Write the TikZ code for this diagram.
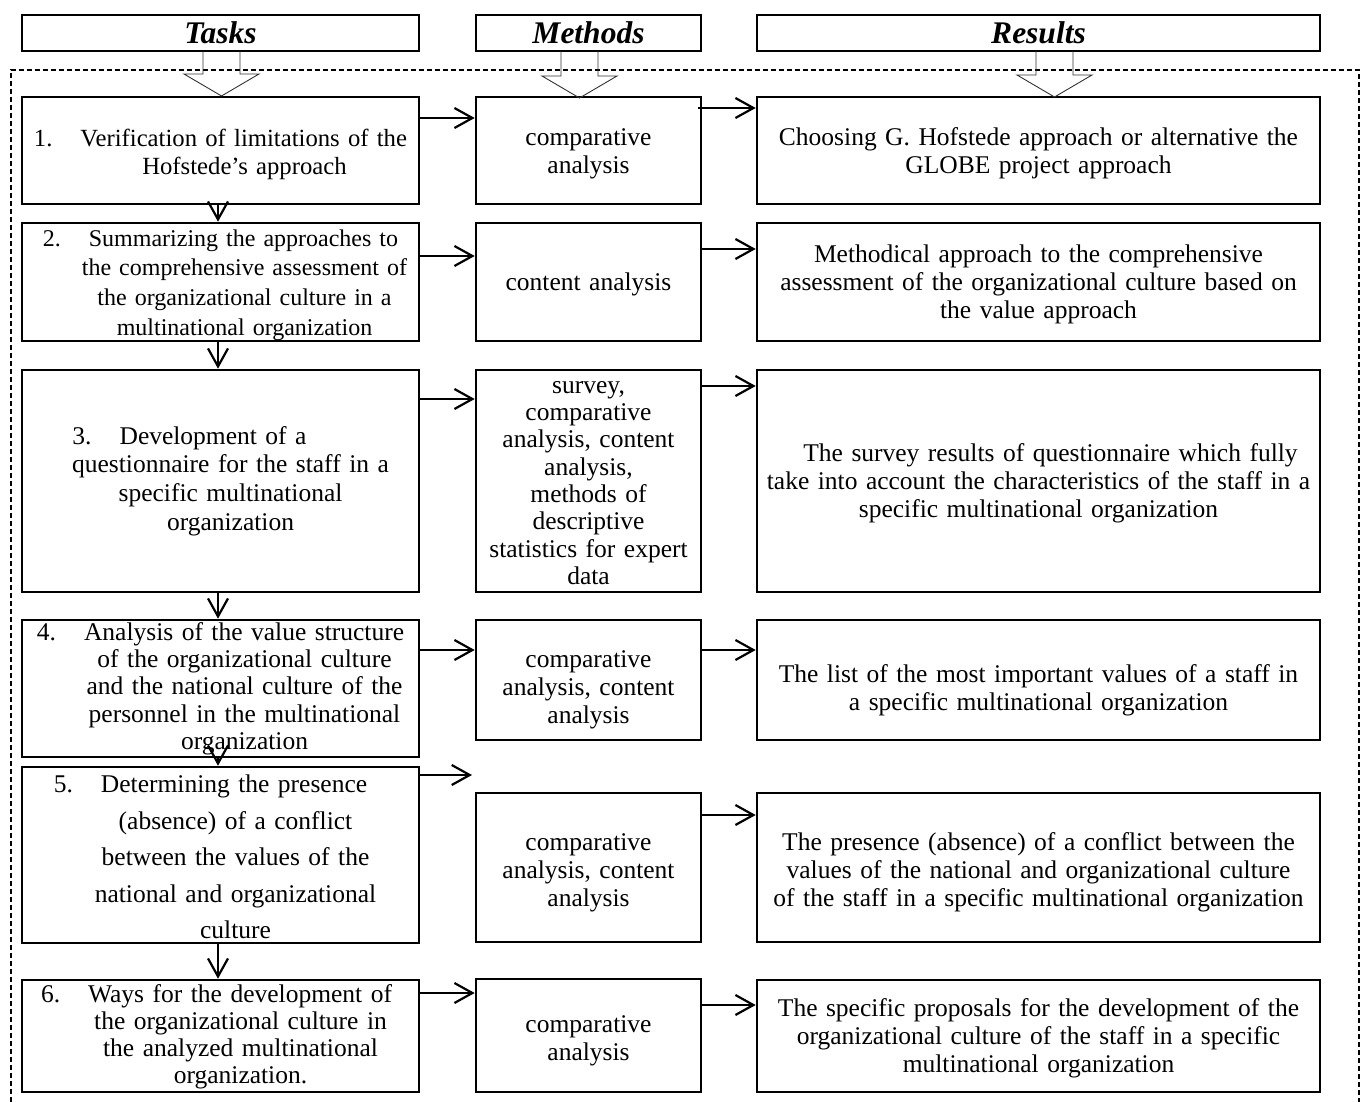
\documentclass[tikz,border=0pt]{standalone}
\usepackage{fontspec}
\setmainfont{Liberation Serif}
\usetikzlibrary{arrows.meta}
% one centred line, shifted by #1 from the middle of the text block
\newcommand{\Lc}[2]{\hspace*{\dimexpr0.5\linewidth+#1\relax}\makebox[0pt][c]{#2}}
% outlined down arrow: centre x, top of shaft, base of head, tip
\newcommand{\blockarrow}[4]{%
  \draw[hollow] (#1-18.5,#2) -- (#1-18.5,#3) -- (#1-37.5,#3) -- (#1,#4)
    -- (#1+37.5,#3) -- (#1+18.5,#3) -- (#1+18.5,#2);}
% framed cell: name, centre, width, height, text style, text shift, text
\newcommand{\cell}[7]{%
  \node[cellbox, minimum width=#3, minimum height=#4] (#1) at #2 {};
  \node[#5, yshift=#6] (#1t) at (#1) {#7};}
\begin{document}
\begin{tikzpicture}[x=1pt,y=-1pt,
  cellbox/.style={draw, line width=2.6pt, inner sep=0pt},
  body/.style={inner sep=0pt, font=\fontsize{25.5}{28}\selectfont},
  tasktext/.style={body, text width=385pt, align=left},
  methtext/.style={body, text width=222pt, align=center},
  restext/.style={body, text width=555pt, align=center},
  headbox/.style={cellbox, minimum height=36pt,
    font=\fontsize{31.5}{34}\selectfont\bfseries\itshape},
  arr/.style={line width=2.2pt, -{Straight Barb[length=18pt,width=20pt]}},
  hollow/.style={line width=0.9pt, draw=black!80},
  outline/.style={dash pattern=on 5pt off 3pt, line width=1.2pt}
]
\useasboundingbox (0,0) rectangle (1365,1102);

% surrounding dashed frame
\draw[outline] (11,1110) -- (11,70) -- (1359,70) -- (1359,1110);

% column headings
\node[headbox, minimum width=397pt] (ht) at (220.5,33) {Tasks};
\node[headbox, minimum width=225pt] (hm) at (588.5,33) {Methods};
\node[headbox, minimum width=563pt] (hr) at (1038.5,33) {Results};

% tasks column
\cell{t1}{(220.5,150.5)}{397pt}{107pt}{tasktext, font=\fontsize{24.7}{28}\selectfont}{-4pt}{%
  \Lc{0pt}{1.\hspace{28pt}Verification of limitations of the}\\
  \Lc{24pt}{Hofstede’s approach}}
\cell{t2}{(220.5,282)}{397pt}{118pt}{tasktext, font=\fontsize{24}{29.7}\selectfont}{-3pt}{%
  \Lc{0pt}{2.\hspace{28pt}Summarizing the approaches to}\\
  \Lc{24pt}{the comprehensive assessment of}\\
  \Lc{24pt}{the organizational culture in a}\\
  \Lc{24pt}{multinational organization}}
\cell{t3}{(220.5,481)}{397pt}{222pt}{tasktext, font=\fontsize{25.5}{28.7}\selectfont}{0pt}{%
  \Lc{-31pt}{3.\hspace{28pt}Development of a}\\
  \Lc{10pt}{questionnaire for the staff in a}\\
  \Lc{10pt}{specific multinational}\\
  \Lc{10pt}{organization}}
\cell{t4}{(220.5,688.5)}{397pt}{137pt}{tasktext, font=\fontsize{25.5}{27.3}\selectfont}{0pt}{%
  \Lc{0pt}{4.\hspace{28pt}Analysis of the value structure}\\
  \Lc{24pt}{of the organizational culture}\\
  \Lc{24pt}{and the national culture of the}\\
  \Lc{24pt}{personnel in the multinational}\\
  \Lc{24pt}{organization}}
\cell{t5}{(220.5,855)}{397pt}{176pt}{tasktext, font=\fontsize{25.5}{36.5}\selectfont}{-2pt}{%
  \Lc{-10pt}{5.\hspace{28pt}Determining the presence}\\
  \Lc{15pt}{(absence) of a conflict}\\
  \Lc{15pt}{between the values of the}\\
  \Lc{15pt}{national and organizational}\\
  \Lc{15pt}{culture}}
\cell{t6}{(220.5,1036)}{397pt}{112pt}{tasktext, font=\fontsize{25.5}{27}\selectfont}{-1pt}{%
  \Lc{-4pt}{6.\hspace{28pt}Ways for the development of}\\
  \Lc{20pt}{the organizational culture in}\\
  \Lc{20pt}{the analyzed multinational}\\
  \Lc{20pt}{organization.}}

% methods column
\cell{m1}{(588.5,150.5)}{225pt}{107pt}{methtext}{-3pt}{comparative\\analysis}
\cell{m2}{(588.5,282)}{225pt}{118pt}{methtext}{-2pt}{content analysis}
\cell{m3}{(588.5,481)}{225pt}{222pt}{methtext, font=\fontsize{25.5}{27.3}\selectfont}{-2pt}{survey,\\comparative\\analysis, content\\analysis,\\methods of\\descriptive\\statistics for expert\\data}
\cell{m4}{(588.5,680)}{225pt}{120pt}{methtext}{-10pt}{comparative\\analysis, content\\analysis}
\cell{m5}{(588.5,867.5)}{225pt}{149pt}{methtext}{-5pt}{comparative\\analysis, content\\analysis}
\cell{m6}{(588.5,1035.5)}{225pt}{113pt}{methtext}{-5pt}{comparative\\analysis}

% results column
\cell{r1}{(1038.5,150.5)}{563pt}{107pt}{restext}{-3pt}{Choosing G. Hofstede approach or alternative the\\GLOBE project approach}
\cell{r2}{(1038.5,282)}{563pt}{118pt}{restext}{-2pt}{Methodical approach to the comprehensive\\assessment of the organizational culture based on\\the value approach}
\cell{r3}{(1038.5,481)}{563pt}{222pt}{restext}{-2pt}{\hspace*{24pt}The survey results of questionnaire which fully\\take into account the characteristics of the staff in a\\specific multinational organization}
\cell{r4}{(1038.5,680)}{563pt}{120pt}{restext}{-10pt}{The list of the most important values of a staff in\\a specific multinational organization}
\cell{r5}{(1038.5,867.5)}{563pt}{149pt}{restext}{-5pt}{The presence (absence) of a conflict between the\\values of the national and organizational culture\\of the staff in a specific multinational organization}
\cell{r6}{(1038.5,1036)}{563pt}{112pt}{restext}{-2pt}{The specific proposals for the development of the\\organizational culture of the staff in a specific\\multinational organization}

% outlined arrows from the headings
\blockarrow{221.5}{51}{74}{96}
\blockarrow{579.5}{51}{76}{98}
\blockarrow{1054.5}{51}{75}{97}

% tasks to methods
\draw[arr] (t1.east |- 0,118) -- (m1.west |- 0,118);
\draw[arr] (t2.east |- 0,256) -- (m2.west |- 0,256);
\draw[arr] (t3.east |- 0,399) -- (m3.west |- 0,399);
\draw[arr] (t4.east |- 0,650) -- (m4.west |- 0,650);
\coordinate (m5in) at (472,775);
\draw[arr] (t5.east |- m5in) -- (m5in);
\draw[arr] (t6.east |- 0,993) -- (m6.west |- 0,993);

% methods to results
\draw[arr] ([xshift=-4pt]m1.east |- 0,108) -- (r1.west |- 0,108);
\draw[arr] (m2.east |- 0,249) -- (r2.west |- 0,249);
\draw[arr] (m3.east |- 0,386) -- (r3.west |- 0,386);
\draw[arr] (m4.east |- 0,650) -- (r4.west |- 0,650);
\draw[arr] (m5.east |- 0,815) -- (r5.west |- 0,815);
\draw[arr] (m6.east |- 0,1005) -- (r6.west |- 0,1005);

% down the tasks column
\coordinate (vx) at (218,0);
\draw[arr] (t1.south -| vx) -- (t2.north -| vx);
\draw[arr] (t2.south -| vx) -- (t3.north -| vx);
\draw[arr] (t3.south -| vx) -- (t4.north -| vx);
\draw[arr] (t4.south -| vx) -- (t5.north -| vx);
\draw[arr] (t5.south -| vx) -- (t6.north -| vx);
\end{tikzpicture}
\end{document}
